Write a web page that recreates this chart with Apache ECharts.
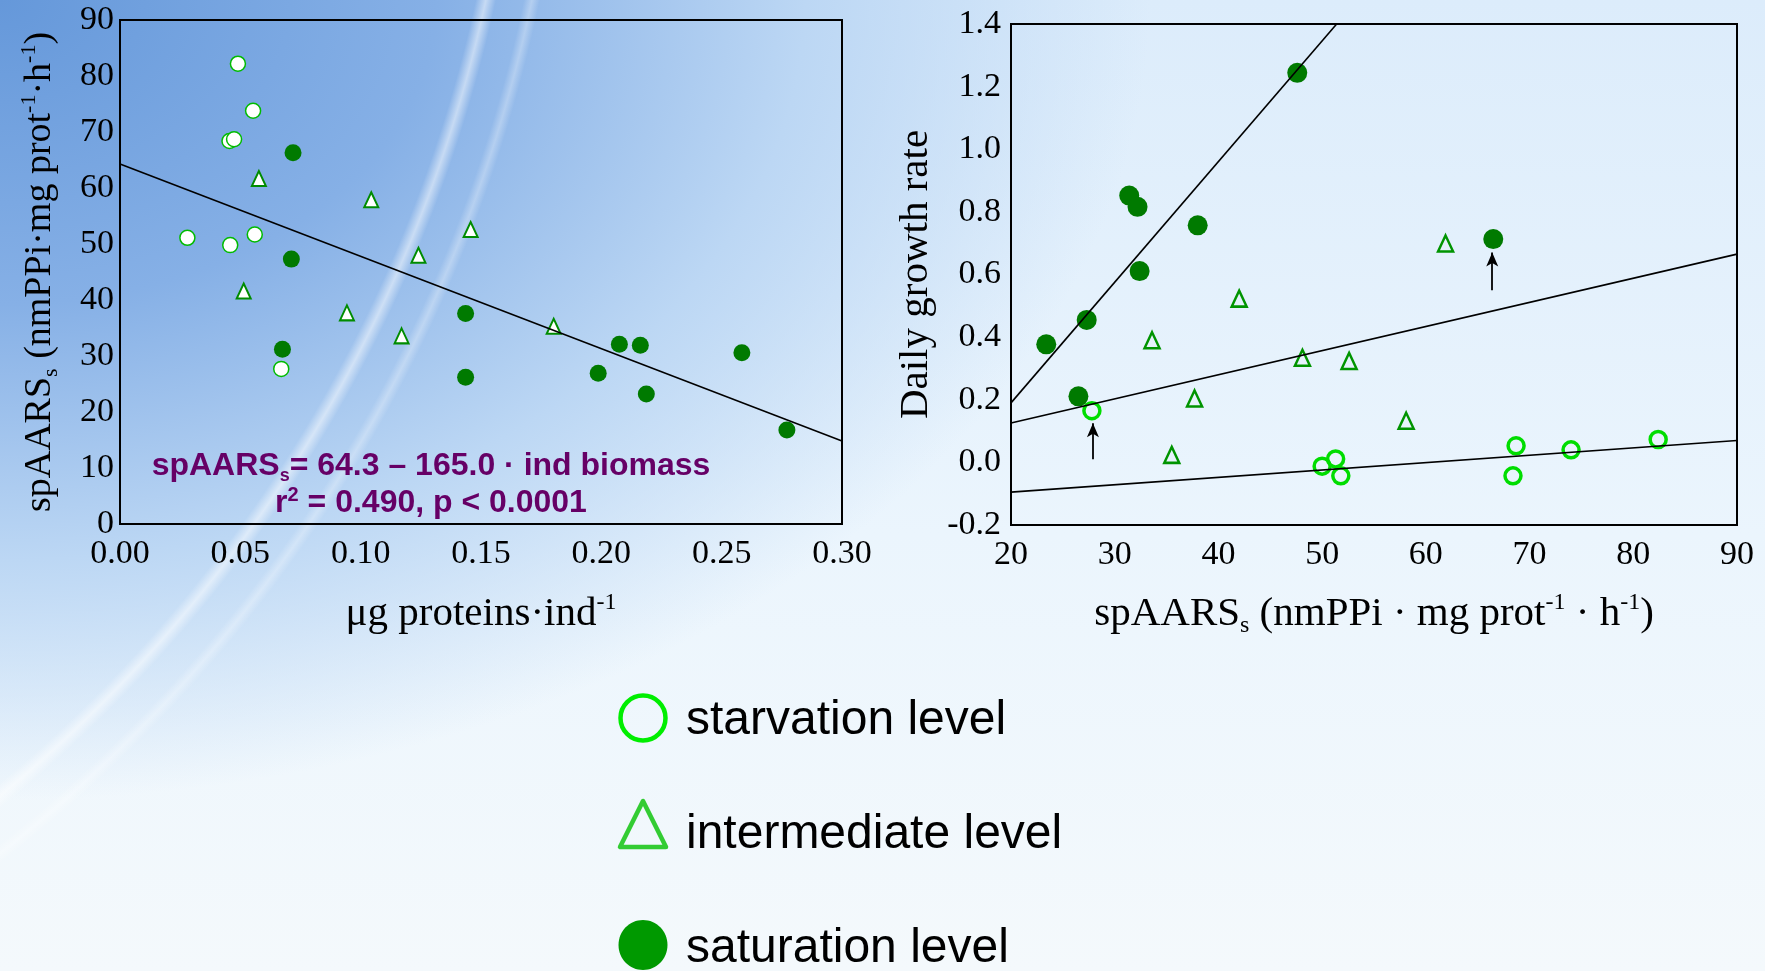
<!DOCTYPE html>
<html>
<head>
<meta charset="utf-8">
<script src="https://cdn.jsdelivr.net/npm/echarts@6/dist/echarts.min.js"></script>
<style>
  html, body { margin: 0; padding: 0; }
  body {
    width: 1765px; height: 971px; overflow: hidden;
    background:
      radial-gradient(circle at -900px -300px, rgba(255,255,255,0) 1408px, rgba(255,255,255,0.5) 1418px, rgba(255,255,255,0) 1428px, rgba(255,255,255,0) 1455px, rgba(255,255,255,0.3) 1463px, rgba(255,255,255,0) 1471px),
      radial-gradient(ellipse 1150px 800px at 0 0, #6598da 0%, #86b0e6 38%, #bcd7f4 70%, rgba(228,241,253,0) 100%),
      linear-gradient(180deg, #dcecfb 0%, #ebf5fd 55%, #f4f9fc 100%);
  }
  #chartContainer { width: 1765px; height: 971px; }
</style>
</head>
<body>
<div id="chartContainer"></div>
<script>
// left panel: specific AARS activity vs individual biomass
const leftStarvation = [[0.049, 82.2], [0.0553, 73.8], [0.0455, 68.4], [0.0474, 68.7], [0.028, 51.1], [0.0458, 49.8], [0.056, 51.7], [0.067, 27.7]];
const leftIntermediate = [[0.0577, 61.7], [0.1044, 57.9], [0.1457, 52.6], [0.124, 48.0], [0.0514, 41.6], [0.0943, 37.7], [0.117, 33.6], [0.1802, 35.3]];
const leftSaturation = [[0.0719, 66.3], [0.0712, 47.3], [0.0675, 31.2], [0.1436, 37.6], [0.1436, 26.2], [0.2075, 32.1], [0.2162, 31.9], [0.1987, 26.9], [0.2187, 23.2], [0.2584, 30.6], [0.2771, 16.8]];
const leftFit = [[0, 64.3], [0.30, 14.8]];

// right panel: daily growth rate vs spAARS
const rightStarvation = [[27.8, 0.165], [50.0, -0.012], [51.3, 0.011], [51.8, -0.043], [68.7, 0.053], [68.4, -0.043], [74.0, 0.040], [82.4, 0.073]];
const rightIntermediate = [[61.9, 0.699], [42.0, 0.523], [33.6, 0.390], [48.1, 0.334], [52.6, 0.324], [37.7, 0.204], [58.1, 0.133], [35.5, 0.024]];
const rightSaturation = [[47.6, 1.244], [31.4, 0.852], [32.2, 0.816], [38.0, 0.757], [32.4, 0.611], [27.3, 0.455], [23.4, 0.377], [26.5, 0.211], [66.5, 0.713]];
const satFit = [[20, 0.19], [51.4, 1.4]];
const intFit = [[20, 0.126], [90, 0.665]];
const starvFit = [[20, -0.095], [90, 0.070]];
const arrows = [[[27.9, 0.01], [27.9, 0.125]], [[66.4, 0.55], [66.4, 0.67]]];

const levelNames = ['starvation level', 'intermediate level', 'saturation level'];

const serif = '"Liberation Serif", "Times New Roman", serif';
const sans = '"Liberation Sans", Arial, sans-serif';

function nameStyle(size) {
    const small = Math.round(size * 0.58);
    return {
        fontFamily: serif, fontSize: size, color: '#000',
        rich: {
            t: { fontFamily: serif, fontSize: size, color: '#000', lineHeight: size + 6 },
            sub: { fontFamily: serif, fontSize: small, color: '#000', verticalAlign: 'bottom', lineHeight: small },
            sup: { fontFamily: serif, fontSize: small, color: '#000', verticalAlign: 'top', lineHeight: small }
        }
    };
}

const tickLabel = { fontFamily: serif, fontSize: 34, color: '#000' };

const myChart = echarts.init(document.getElementById('chartContainer'));

// legend drawn by hand so the three rows keep the original spacing
const legendRows = [
    { y: 718, shape: 'ring' },
    { y: 824, shape: 'triangle' },
    { y: 945, shape: 'dot' }
];
const legendGraphics = [];
legendRows.forEach((row, i) => {
    if (row.shape === 'ring') {
        legendGraphics.push({ type: 'circle', shape: { cx: 643, cy: row.y, r: 22.5 }, style: { fill: 'none', stroke: '#00ee00', lineWidth: 4.5 } });
    } else if (row.shape === 'triangle') {
        legendGraphics.push({ type: 'polygon', shape: { points: [[643, row.y - 23], [620, row.y + 23], [666, row.y + 23]] }, style: { fill: 'none', stroke: '#33cc33', lineWidth: 4.5, lineJoin: 'round' } });
    } else {
        legendGraphics.push({ type: 'ellipse', shape: { cx: 643, cy: row.y, rx: 24.5, ry: 25 }, style: { fill: '#009900' } });
    }
    legendGraphics.push({
        type: 'text', x: 686, y: 721 + i * 114,
        style: { text: levelNames[i], fontFamily: sans, fontSize: 48, fill: '#000', verticalAlign: 'middle' }
    });
});

const option = {
    animation: false,
    backgroundColor: 'transparent',
    grid: [
        { left: 120, top: 20, width: 722, height: 504, show: true, borderColor: '#000', borderWidth: 2, backgroundColor: 'transparent' },
        { left: 1011, top: 24, width: 726, height: 501, show: true, borderColor: '#000', borderWidth: 2, backgroundColor: 'transparent' }
    ],
    xAxis: [
        {
            gridIndex: 0, type: 'value', min: 0, max: 0.3, interval: 0.05,
            axisLine: { show: false }, axisTick: { show: false }, splitLine: { show: false },
            axisLabel: Object.assign({ margin: 13, formatter: v => v.toFixed(2) }, tickLabel),
            name: '{t|μg proteins·ind}{sup|-1}', nameLocation: 'middle', nameGap: 67,
            nameTextStyle: nameStyle(41)
        },
        {
            gridIndex: 1, type: 'value', min: 20, max: 90, interval: 10,
            axisLine: { show: false }, axisTick: { show: false }, splitLine: { show: false },
            axisLabel: Object.assign({ margin: 13 }, tickLabel),
            name: '{t|spAARS}{sub|s}{t| (nmPPi · mg prot}{sup|-1}{t| · h}{sup|-1}{t|)}', nameLocation: 'middle', nameGap: 66,
            nameTextStyle: nameStyle(41)
        }
    ],
    yAxis: [
        {
            gridIndex: 0, type: 'value', min: 0, max: 90, interval: 10,
            axisLine: { show: false }, axisTick: { show: false }, splitLine: { show: false },
            axisLabel: Object.assign({ margin: 6 }, tickLabel),
            name: '{t|spAARS}{sub|s}{t| (nmPPi·mg prot}{sup|-1}{t|·h}{sup|-1}{t|)}', nameLocation: 'middle', nameGap: 58,
            nameTextStyle: nameStyle(38)
        },
        {
            gridIndex: 1, type: 'value', min: -0.2, max: 1.4, interval: 0.2,
            axisLine: { show: false }, axisTick: { show: false }, splitLine: { show: false },
            axisLabel: Object.assign({ margin: 10, formatter: v => v.toFixed(1) }, tickLabel),
            name: 'Daily growth rate', nameLocation: 'middle', nameGap: 74,
            nameTextStyle: { fontFamily: serif, fontSize: 41, color: '#000' }
        }
    ],
    graphic: [
        {
            type: 'text', x: 431, y: 485, z: 100,
            style: {
                text: '{b|spAARS}{bs|s}{b|= 64.3 – 165.0 · ind biomass}\n{b|r}{bp|2}{b| = 0.490, p < 0.0001}',
                align: 'center', verticalAlign: 'middle',
                rich: {
                    b: { fontFamily: sans, fontWeight: 'bold', fontSize: 32, fill: '#660066', lineHeight: 37 },
                    bs: { fontFamily: sans, fontWeight: 'bold', fontSize: 18, fill: '#660066', verticalAlign: 'bottom', lineHeight: 18 },
                    bp: { fontFamily: sans, fontWeight: 'bold', fontSize: 20, fill: '#660066', verticalAlign: 'top', lineHeight: 20 }
                }
            }
        }
    ].concat(legendGraphics),
    series: [
        {
            name: levelNames[0], type: 'scatter', xAxisIndex: 0, yAxisIndex: 0, data: leftStarvation,
            symbol: 'circle', symbolSize: 15,
            itemStyle: { color: '#ffffff', borderColor: '#00bb00', borderWidth: 1.5, opacity: 1 }
        },
        {
            name: levelNames[1], type: 'scatter', xAxisIndex: 0, yAxisIndex: 0, data: leftIntermediate,
            symbol: 'triangle', symbolSize: [14, 15],
            itemStyle: { color: '#ffffff', borderColor: '#008c00', borderWidth: 2, opacity: 1 }
        },
        {
            name: levelNames[2], type: 'scatter', xAxisIndex: 0, yAxisIndex: 0, data: leftSaturation,
            symbol: 'circle', symbolSize: 17,
            itemStyle: { color: '#007a00', opacity: 1 }
        },
        {
            type: 'line', xAxisIndex: 0, yAxisIndex: 0, data: leftFit, showSymbol: false, z: 5,
            lineStyle: { color: '#000', width: 1.6 }
        },
        {
            name: levelNames[0], type: 'scatter', xAxisIndex: 1, yAxisIndex: 1, data: rightStarvation,
            symbol: 'circle', symbolSize: 16,
            itemStyle: { color: 'rgba(0,0,0,0)', borderColor: '#00dd00', borderWidth: 3.5, opacity: 1 },
            markLine: {
                silent: true, symbol: ['none', 'arrow'], symbolSize: [9, 14],
                label: { show: false },
                lineStyle: { color: '#000', width: 1.8, type: 'solid' },
                data: arrows.map(a => [{ coord: a[0] }, { coord: a[1] }])
            }
        },
        {
            name: levelNames[1], type: 'scatter', xAxisIndex: 1, yAxisIndex: 1, data: rightIntermediate,
            symbol: 'triangle', symbolSize: [15, 16],
            itemStyle: { color: 'rgba(0,0,0,0)', borderColor: '#009400', borderWidth: 2.5, opacity: 1 }
        },
        {
            name: levelNames[2], type: 'scatter', xAxisIndex: 1, yAxisIndex: 1, data: rightSaturation,
            symbol: 'circle', symbolSize: 20,
            itemStyle: { color: '#007a00', opacity: 1 }
        },
        {
            type: 'line', xAxisIndex: 1, yAxisIndex: 1, data: satFit, showSymbol: false, z: 5,
            lineStyle: { color: '#000', width: 1.6 }
        },
        {
            type: 'line', xAxisIndex: 1, yAxisIndex: 1, data: intFit, showSymbol: false, z: 5,
            lineStyle: { color: '#000', width: 1.6 }
        },
        {
            type: 'line', xAxisIndex: 1, yAxisIndex: 1, data: starvFit, showSymbol: false, z: 5,
            lineStyle: { color: '#000', width: 1.6 }
        }
    ]
};

myChart.setOption(option);
</script>
</body>
</html>
